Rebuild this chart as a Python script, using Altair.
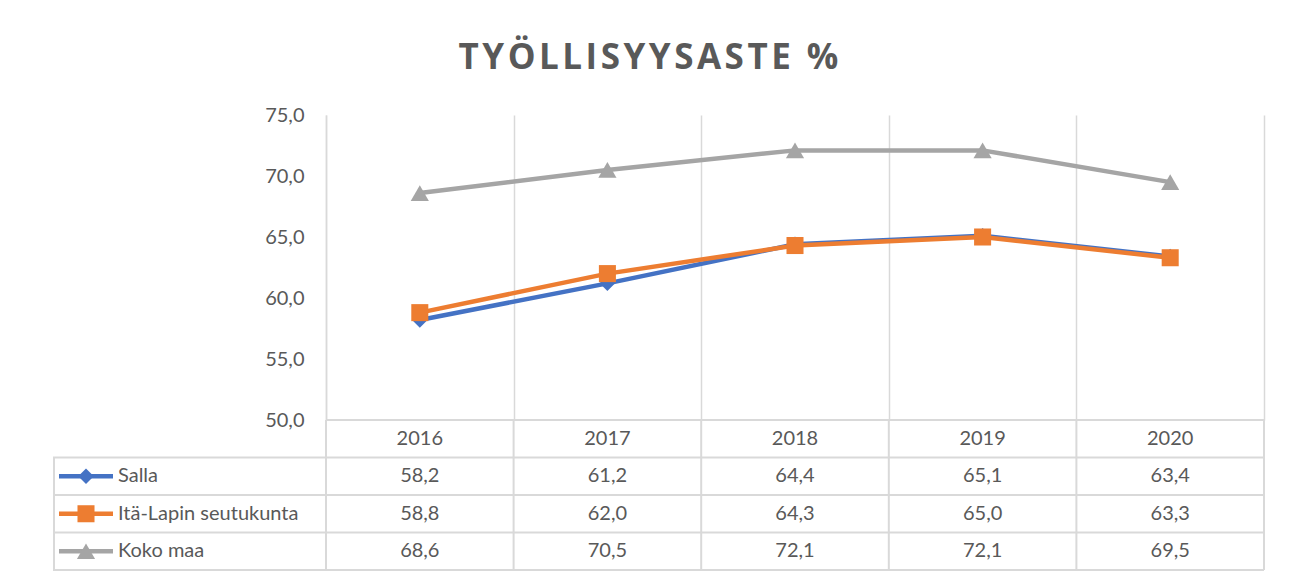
import altair as alt
import pandas as pd

# ---------------- data ----------------
years = [2016, 2017, 2018, 2019, 2020]
series = ["Salla", "Itä-Lapin seutukunta", "Koko maa"]
salla = [58.2, 61.2, 64.4, 65.1, 63.4]
ita_lappi = [58.8, 62.0, 64.3, 65.0, 63.3]
koko_maa = [68.6, 70.5, 72.1, 72.1, 69.5]
y_ticks = [50, 55, 60, 65, 70, 75]
chart_title = "TYÖLLISYYSASTE %"

# ---------------- styles ----------------
colors = ["#4472C4", "#ED7D31", "#A5A5A5"]
shapes = ["diamond", "square", "triangle-up"]
msizes = [240, 290, 330]
TXT = "#595959"
GRID = "#D9D9D9"
FONT = "Lato"

PLOT_W = 1211          # legend column + 5 year columns
COL_PX = 187.6         # width of one year column
LEG_PX = 273           # width of legend column
TOP_H = 305
TAB_H = 150

x_min = years[0] - 0.5 - LEG_PX / COL_PX
x_max = years[-1] + 0.5
bounds = [years[0] - 0.5 + i for i in range(len(years) + 1)]
xscale = alt.Scale(domain=[x_min, x_max], nice=False, zero=False)

values_by_series = [salla, ita_lappi, koko_maa]
rows = []
for si, (s, vals) in enumerate(zip(series, values_by_series)):
    for y, v in zip(years, vals):
        rows.append({"year": y, "series": s, "value": v, "row": si + 1.5})
long = pd.DataFrame(rows)

comma = "replace(format(datum.value, '.1f'), '.', ',')"

# letter-spaced title (hair spaces between letters)
spaced_title = "\u200a".join(list(chart_title))

# ---------------- top line chart ----------------
x_top = alt.X("year:Q", scale=xscale,
              axis=alt.Axis(values=bounds, grid=True, gridColor=GRID, gridWidth=1.5,
                            labels=False, ticks=False, domain=False, title=None,
                            minExtent=0, maxExtent=0, offset=0))
y_top = alt.Y("value:Q", scale=alt.Scale(domain=[50, 75], nice=False, zero=False),
              axis=alt.Axis(values=y_ticks, labelExpr=comma, offset=-LEG_PX, grid=False,
                            ticks=False, domainColor=GRID, domainWidth=1.5,
                            labelFontSize=20, labelColor=TXT, labelFont=FONT,
                            labelPadding=22, title=None))

order = [2, 0, 1]
top_layers = []
for i in order:
    d = long[long["series"] == series[i]]
    base = alt.Chart(d)
    top_layers.append(base.mark_line(color=colors[i], strokeWidth=4.5).encode(x=x_top, y=y_top))
    top_layers.append(base.mark_point(color=colors[i], filled=True, opacity=1, shape=shapes[i],
                                      size=msizes[i]).encode(x=x_top, y=y_top))
top = alt.layer(*top_layers).properties(width=PLOT_W, height=TOP_H)

# ---------------- bottom data table ----------------
yscale_t = alt.Scale(domain=[0, 4], reverse=True, nice=False, zero=False)
xt = lambda f: alt.X(f, scale=xscale, axis=None)
yt = lambda f: alt.Y(f, scale=yscale_t, axis=None)

hlines = pd.DataFrame(
    [{"y": 0, "x": bounds[0], "x2": x_max}] +
    [{"y": r, "x": x_min, "x2": x_max} for r in range(1, 5)]
)
vlines = pd.DataFrame(
    [{"x": x_min + 1 / COL_PX, "y": 1, "y2": 4}] +
    [{"x": b, "y": 0, "y2": 4} for b in bounds]
)
hdr = pd.DataFrame({"year": years, "row": [0.5] * len(years),
                    "label": [str(y) for y in years]})

leg = pd.DataFrame({"series": series, "row": [1.5, 2.5, 3.5]})
leg_text_x = x_min + 65 / COL_PX
leg_l0 = x_min + 6 / COL_PX
leg_l1 = x_min + 60 / COL_PX
leg_mx = x_min + 33 / COL_PX

tab_layers = [
    alt.Chart(hlines).mark_rule(color=GRID, strokeWidth=2).encode(
        x=xt("x:Q"), x2="x2:Q", y=yt("y:Q")),
    alt.Chart(vlines).mark_rule(color=GRID, strokeWidth=2).encode(
        x=xt("x:Q"), y=yt("y:Q"), y2="y2:Q"),
    alt.Chart(hdr).mark_text(fontSize=20, font=FONT, color=TXT).encode(
        x=xt("year:Q"), y=yt("row:Q"), text="label:N"),
    alt.Chart(long).transform_calculate(lbl=comma).mark_text(
        fontSize=20, font=FONT, color=TXT).encode(
        x=xt("year:Q"), y=yt("row:Q"), text="lbl:N"),
    alt.Chart(leg).transform_calculate(tx=str(leg_text_x)).mark_text(
        fontSize=20, font=FONT, color=TXT, align="left").encode(
        x=xt("tx:Q"), y=yt("row:Q"), text="series:N"),
]
for i in range(3):
    ld = leg[leg["series"] == series[i]]
    tab_layers.append(
        alt.Chart(ld).transform_calculate(a=str(leg_l0), b=str(leg_l1)).mark_rule(
            color=colors[i], strokeWidth=4.5).encode(x=xt("a:Q"), x2="b:Q", y=yt("row:Q")))
    tab_layers.append(
        alt.Chart(ld).transform_calculate(m=str(leg_mx)).mark_point(
            color=colors[i], filled=True, opacity=1, shape=shapes[i], size=msizes[i]
        ).encode(x=xt("m:Q"), y=yt("row:Q")))

table = alt.layer(*tab_layers).properties(width=PLOT_W, height=TAB_H)

chart = alt.vconcat(top, table, spacing=0, bounds="flush").properties(
    title=alt.TitleParams(spaced_title, fontSize=35, font="Open Sans", fontWeight="bold",
                          color=TXT, anchor="middle", dx=-10, offset=29),
    padding={"left": 44, "top": 33, "right": 5, "bottom": 0},
    background="white",
).configure_view(stroke=None)

chart.save("out.html", embed_options={"renderer": "svg", "actions": False})
